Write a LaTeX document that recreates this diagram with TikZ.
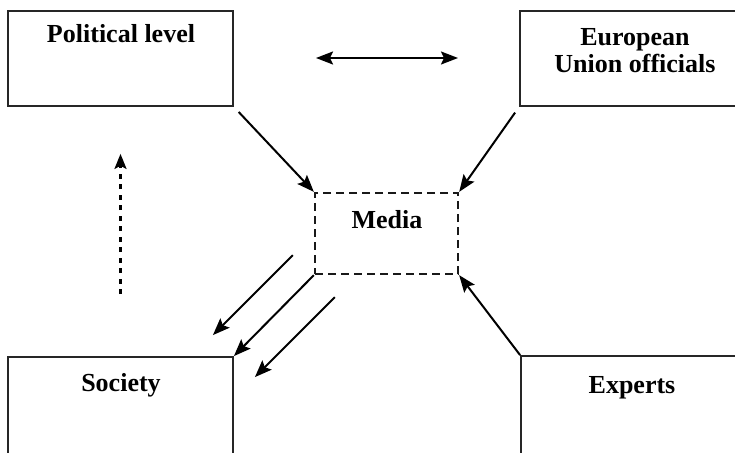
\documentclass[tikz,border=0pt]{standalone}
\usepackage{fontspec}
\setmainfont{Liberation Serif}
\usetikzlibrary{arrows.meta}

\begin{document}
\begin{tikzpicture}[x=1pt,y=-1pt,
    box/.style={draw=black!85,line width=1.8pt,minimum width=225pt,minimum height=95pt,inner sep=0pt},
    dbox/.style={draw=black!90,line width=2.3pt,dash pattern=on 8pt off 5pt,minimum width=143pt,minimum height=81pt,inner sep=0pt},
    lbl/.style={font=\fontsize{26}{27}\selectfont\bfseries,align=center,inner sep=0pt,anchor=base},
    arr/.style={line width=2pt,-{Stealth[length=17pt,width=13pt,inset=3pt]}}]
    \useasboundingbox (0,0) rectangle (735,452);
    \node[box](pol)at(120.5,58.5){};
    \node[box](eu)at(632.5,58.5){};
    \node[dbox](med)at(386.5,233.5){};
    \node[box,minimum height=102pt](soc)at(120.5,408){};
    \node[box,minimum height=102pt](exp)at(633.5,407){};

    \node[lbl](poltxt)at(121,43){Political level};
    \node[lbl,anchor=north](eutxt)at(635,28){European\\Union officials};
    \node[lbl](medtxt)at(387,228){Media};
    \node[lbl](soctxt)at(121,391){Society};
    \node[lbl](exptxt)at(632,393){Experts};

    \coordinate(dl)at(316,58);
    \coordinate(dr)at(458,58);
    \draw[line width=2pt,{Stealth[length=17pt,width=13pt,inset=3pt]}-{Stealth[length=17pt,width=13pt,inset=3pt]}] (dl) to (dr);

    \draw[arr,shorten <=7pt] (pol.south east) to (med.north west);
    \draw[arr,shorten <=7pt] (eu.south west) to (med.north east);
    \draw[arr] (exp.north west) to (med.south east);
    \draw[arr] ([shift={(-21,-20)}]med.south west) to ([shift={(-21,-21)}]soc.north east);
    \draw[arr] (med.south west) to (soc.north east);
    \draw[arr] ([shift={(21,22)}]med.south west) to ([shift={(21,21)}]soc.north east);
    \draw[line width=2.3pt,dash pattern=on 5pt off 5.5pt,-{Stealth[length=15pt,width=12pt,inset=3pt]},shorten <=62pt,shorten >=47pt] (soc.north) to (pol.south);
  \end{tikzpicture}
\end{document}
